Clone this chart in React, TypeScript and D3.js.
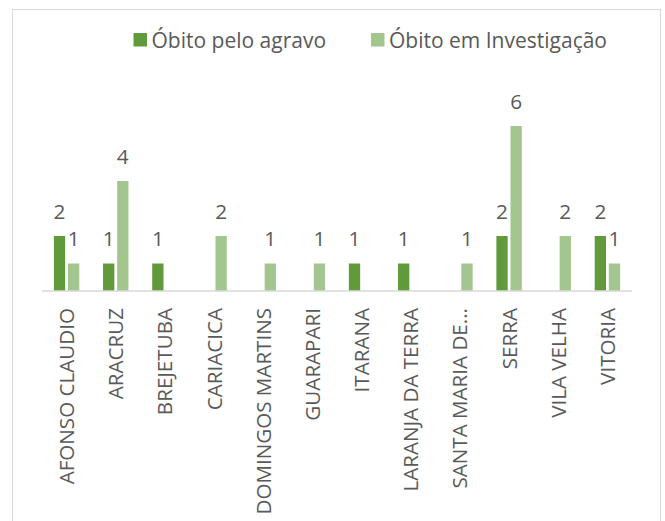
import React from "react";
import * as d3 from "d3";

const categories = [
  "AFONSO CLAUDIO",
  "ARACRUZ",
  "BREJETUBA",
  "CARIACICA",
  "DOMINGOS MARTINS",
  "GUARAPARI",
  "ITARANA",
  "LARANJA DA TERRA",
  "SANTA MARIA DE...",
  "SERRA",
  "VILA VELHA",
  "VITORIA",
];
const obitoAgravo = [2, 1, 1, 0, 0, 0, 1, 1, 0, 2, 0, 2];
const obitoInvestigacao = [1, 4, 0, 2, 1, 1, 0, 0, 1, 6, 2, 1];
const seriesNames = ["Óbito pelo agravo", "Óbito em Investigação"];
const seriesColors = ["#619A3B", "#A3C68E"];

const W = 665;
const H = 521;
const FONT = "'Open Sans', 'Noto Sans', sans-serif";
const TEXT = "#595959";

export default function App() {
  const x0 = d3
    .scaleBand<string>()
    .domain(categories)
    .range([42, 632])
    .paddingInner(0.483)
    .paddingOuter(0.2415);
  const x1 = d3
    .scaleBand<string>()
    .domain(["a", "b"])
    .range([0, x0.bandwidth()])
    .paddingInner(0.2);
  const y = d3.scaleLinear().domain([0, 7]).range([291, 98.5]);

  const series = [obitoAgravo, obitoInvestigacao];
  const keys = ["a", "b"];

  return (
    <svg
      width={W}
      height={H}
      style={{ position: "absolute", left: 0, top: 0 }}
      fontFamily={FONT}
    >
      <rect x={0} y={0} width={W} height={H} fill="#ffffff" />
      <rect
        x={12.5}
        y={9.5}
        width={648}
        height={530}
        fill="#ffffff"
        stroke="#D9D9D9"
        strokeWidth={1}
      />
      {/* legend */}
      {seriesNames.map((name, i) => {
        const lx = i === 0 ? 133.5 : 371;
        return (
          <g key={name}>
            <rect x={lx} y={33} width={13.5} height={13.5} fill={seriesColors[i]} />
            <text x={lx + 18} y={47.5} fontSize={21} fill={TEXT}>
              {name}
            </text>
          </g>
        );
      })}
      {/* bars */}
      {categories.map((c, ci) => (
        <g key={c} transform={`translate(${x0(c)},0)`}>
          {series.map((s, si) =>
            s[ci] > 0 ? (
              <rect
                key={si}
                x={x1(keys[si])}
                y={y(s[ci])}
                width={x1.bandwidth()}
                height={y(0) - y(s[ci])}
                fill={seriesColors[si]}
              />
            ) : null
          )}
          {series.map((s, si) =>
            s[ci] > 0 ? (
              <text
                key={"l" + si}
                x={(x1(keys[si]) as number) + x1.bandwidth() / 2}
                y={y(s[ci]) - 17.5}
                textAnchor="middle"
                fontSize={20.8}
                fill={TEXT}
              >
                {s[ci]}
              </text>
            ) : null
          )}
        </g>
      ))}
      {/* axis line */}
      <line x1={42} x2={632} y1={291} y2={291} stroke="#D9D9D9" strokeWidth={1.5} />
      {/* category labels */}
      {categories.map((c) => {
        const cx = (x0(c) as number) + x0.bandwidth() / 2;
        return (
          <text
            key={"c" + c}
            transform={`translate(${cx},308) rotate(-90)`}
            textAnchor="end"
            dy="0.36em"
            fontSize={20.6}
            fill={TEXT}
          >
            {c}
          </text>
        );
      })}
    </svg>
  );
}
